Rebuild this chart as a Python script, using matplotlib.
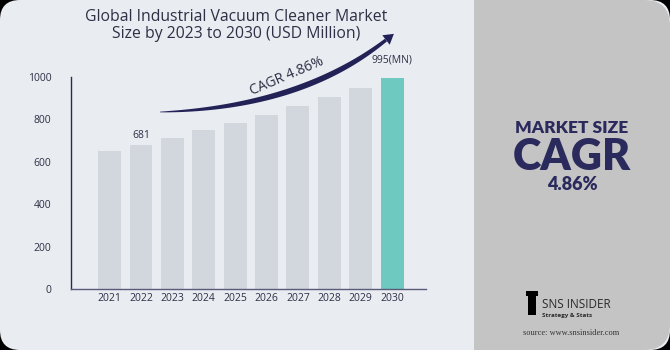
import numpy as np
import matplotlib
matplotlib.use('Agg')
import matplotlib.pyplot as plt
from matplotlib.patches import FancyBboxPatch, Polygon, Rectangle

years = ['2021', '2022', '2023', '2024', '2025', '2026', '2027', '2028', '2029', '2030']
values = [649, 681, 714, 749, 785, 823, 863, 905, 949, 995]
yticks = [0, 200, 400, 600, 800, 1000]

NAVY = '#2b2a5c'
TEXT = '#2f2f45'
BAR = '#d1d7dc'
LAST = '#6ec9c1'

plt.rcParams['font.family'] = ['Open Sans', 'DejaVu Sans']

fig = plt.figure(figsize=(6.7, 3.5), dpi=100)
fig.patch.set_facecolor('black')

# background panels in pixel coords
bg = fig.add_axes([0, 0, 1, 1])
bg.set_xlim(0, 670)
bg.set_ylim(350, 0)
bg.axis('off')
bg.add_patch(FancyBboxPatch((0, 0), 670, 350, boxstyle='round,pad=0,rounding_size=20',
                            fc='#e9ecf1', ec='none'))
bg.add_patch(FancyBboxPatch((474, 0), 196, 350, boxstyle='round,pad=0,rounding_size=26',
                            fc='#c4c4c4', ec='none'))
bg.add_patch(Rectangle((474, 0), 30, 350, fc='#c4c4c4', ec='none'))

# title
bg.text(236, 17, 'Global Industrial Vacuum Cleaner Market', ha='center', va='center',
        fontsize=11.3, color=TEXT, fontweight='medium')
bg.text(236, 34, 'Size by 2023 to 2030 (USD Million)', ha='center', va='center',
        fontsize=11.3, color=TEXT, fontweight='medium')

# swoosh arrow
t = np.linspace(0, 1, 60)
p0, p1, p2 = np.array([160, 112]), np.array([300, 108]), np.array([386, 40])
curve = ((1 - t)[:, None] ** 2) * p0 + (2 * (1 - t) * t)[:, None] * p1 + (t ** 2)[:, None] * p2
d = np.gradient(curve, axis=0)
n = np.stack([-d[:, 1], d[:, 0]], axis=1)
n /= np.linalg.norm(n, axis=1)[:, None]
w = 0.3 + 2.6 * np.sin(np.pi * np.clip(t * 0.85, 0, 1)) ** 0.8
upper = curve + n * w[:, None]
lower = curve - n * w[:, None]
bg.add_patch(Polygon(np.vstack([upper, lower[::-1]]), closed=True, fc='#232257', ec='none'))
tip = curve[-1] + (d[-1] / np.linalg.norm(d[-1])) * 10
nn = n[-1]
bg.add_patch(Polygon([curve[-1] + nn * 6, tip, curve[-1] - nn * 6], closed=True,
                     fc='#232257', ec='none'))
bg.text(287, 76, 'CAGR 4.86%', ha='center', va='center', rotation=23,
        fontsize=10, color=TEXT)

# right panel text
bg.text(572, 128, 'MARKET SIZE', ha='center', va='center', fontsize=12.5,
        fontweight='heavy', color=NAVY, family=['Lato', 'DejaVu Sans'])
bg.text(572, 157, 'CAGR', ha='center', va='center', fontsize=31,
        fontweight='heavy', color=NAVY, family=['Lato', 'DejaVu Sans'])
bg.text(572, 185, '4.86%', ha='center', va='center', fontsize=13,
        fontweight='heavy', color=NAVY, family=['Lato', 'DejaVu Sans'])

# logo
bg.add_patch(Rectangle((528, 295), 8, 20, fc='black', ec='none'))
bg.add_patch(Rectangle((526, 291), 12, 5, fc='black', ec='none'))
bg.text(542, 304, 'SNS INSIDER', ha='left', va='center', fontsize=8.5, color='#2a2a2a')
bg.text(542, 315, 'Strategy & Stats', ha='left', va='center', fontsize=4.5,
        color='#2a2a2a', fontweight='bold')
bg.text(571, 333, 'source: www.snsinsider.com', ha='center', va='center', fontsize=6,
        color='#333333', family=['Liberation Serif', 'DejaVu Serif'])

# chart
ax = fig.add_axes([71 / 670, 1 - 289 / 350, 355 / 670, 212 / 350])
ax.set_facecolor('none')
x = np.arange(len(years))
colors = [BAR] * (len(years) - 1) + [LAST]
ax.bar(x, values, width=0.73, color=colors)
ax.set_xlim(-1.23, len(years) - 1 + 1.08)
ax.set_ylim(0, 1000)
ax.set_xticks(x)
ax.set_xticklabels(years, fontsize=7.5, color=TEXT)
ax.set_yticks(yticks)
ax.set_yticklabels([str(v) for v in yticks], fontsize=7.5, color=TEXT)
ax.tick_params(length=0)
ax.tick_params(axis='y', pad=14)
ax.tick_params(axis='x', pad=3)
for s in ['top', 'right']:
    ax.spines[s].set_visible(False)
ax.spines['left'].set_color('#2b2a4a')
ax.spines['bottom'].set_color('#5a5a7a')
ax.spines['left'].set_linewidth(1.0)
ax.spines['bottom'].set_linewidth(1.0)

ax.text(x[1], values[1] + 45, str(values[1]), ha='center', va='center', fontsize=7.5, color=TEXT)
ax.text(x[-1], values[-1] + 85, f'{values[-1]}(MN)', ha='center', va='center', fontsize=7.5, color=TEXT)

fig.savefig('out.png', dpi=100, facecolor=fig.get_facecolor())
